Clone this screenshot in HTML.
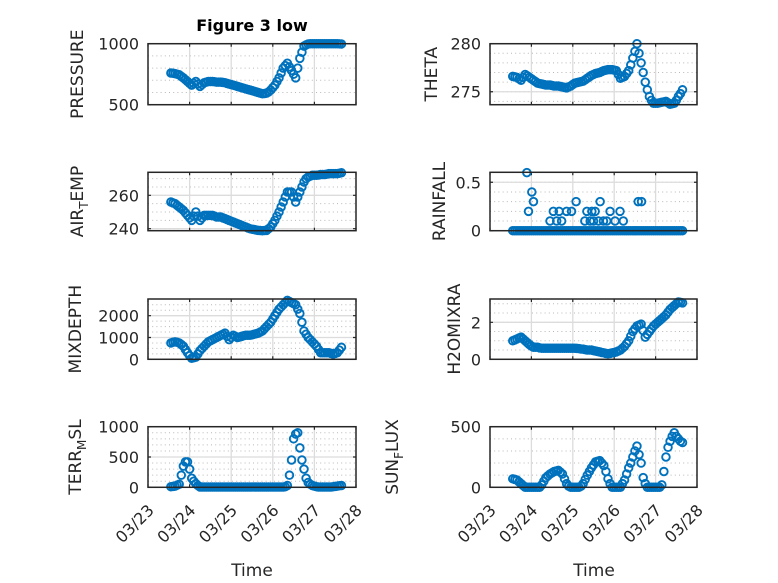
<!DOCTYPE html>
<html><head><meta charset="utf-8"><style>
html,body{margin:0;padding:0;background:#fff;}
svg{display:block;font-family:"DejaVu Sans","Liberation Sans",sans-serif;}
</style></head><body>
<svg id="fig" width="778" height="583" viewBox="0 0 778 583" xmlns="http://www.w3.org/2000/svg">
<rect x="0" y="0" width="778" height="583" fill="#fff"/>
<text x="252" y="31" text-anchor="middle" font-weight="bold" font-size="16" fill="#000">Figure 3 low</text>
<text x="252" y="576" text-anchor="middle" font-size="17" fill="#262626">Time</text>
<text x="594" y="576" text-anchor="middle" font-size="17" fill="#262626">Time</text>
</svg>
<script>
const dayLabels = ["03/23","03/24","03/25","03/26","03/27","03/28"];
const t = [0.55,0.6,0.65,0.7,0.75,0.8,0.85,0.9,0.95,1.0,1.05,1.1,1.15,1.2,1.25,1.3,1.35,1.4,1.45,1.5,1.55,1.6,1.65,1.7,1.75,1.8,1.85,1.9,1.95,2.0,2.05,2.1,2.15,2.2,2.25,2.3,2.35,2.4,2.45,2.5,2.55,2.6,2.65,2.7,2.75,2.8,2.85,2.9,2.95,3.0,3.05,3.1,3.15,3.2,3.25,3.3,3.35,3.4,3.45,3.5,3.55,3.6,3.65,3.7,3.75,3.8,3.85,3.9,3.95,4.0,4.05,4.1,4.15,4.2,4.25,4.3,4.35,4.4,4.45,4.5,4.55,4.6,4.65];
const pressure = [760,758,755,750,745,732,720,705,690,675, 660,675,690,670,650,665,680,685,690,690, 690,688,685,685,685,683,680,675,670,665, 660,655,650,645,640,635,630,625,620,615, 610,605,600,595,590,592,595,605,620,640, 660,690,720,760,800,820,840,810,780,750, 720,800,880,930,980,990,998,1000,1000,1000, 1000,1000,1000,1000,1000,1000,1000,1000,1000,1000, 1000,999,998];
const airTemp = [256,255.5,255,254,253,252,251,249.5,248,246.5, 245,247.5,250,247.5,245,246.5,248,248,248,248, 248,247.5,247,247,247,246.5,246,245.5,245,244.5, 244,243.5,243,242.5,242,241.5,241,240.5,240,239.7, 239.5,239.2,239,238.9,238.8,238.9,239,240,241,243, 245,247.5,250,253,256,259,262,262,262,259, 256,259,262,265,268,270,271,271.5,272,272, 272,272.2,272.5,272.5,272.5,272.7,273,273,273,273, 273,273.2,273.5];
const theta = [276.6,276.55,276.5,276.35,276.2,276.5,276.8,276.65,276.5,276.35, 276.2,276.05,275.9,275.85,275.8,275.75,275.7,275.7,275.7,275.65, 275.6,275.6,275.6,275.55,275.5,275.45,275.4,275.5,275.6,275.75, 275.9,275.95,276,276.05,276.1,276.25,276.4,276.55,276.7,276.8, 276.9,276.95,277,277.1,277.2,277.25,277.3,277.3,277.3,277.25, 277.2,276.8,276.4,276.5,276.6,276.9,277.2,277.8,278.5,279.2, 280,279,278,277,276,275.2,274.5,274.1,273.8,273.8, 273.8,273.85,273.9,273.95,274,273.85,273.7,273.75,273.8,274.1, 274.5,274.8,275.2];
const rainT = [0.55,0.6,0.65,0.7,0.75,0.8,0.85,0.9,0.95,1.0,1.05,1.1,1.15,1.2,1.25,1.3,1.35,1.4,1.45,1.5,1.55,1.6,1.65,1.7,1.75,1.8,1.85,1.9,1.95,2.0,2.05,2.1,2.15,2.2,2.25,2.3,2.35,2.4,2.45,2.5,2.55,2.6,2.65,2.7,2.75,2.8,2.85,2.9,2.95,3.0,3.05,3.1,3.15,3.2,3.25,3.3,3.35,3.4,3.45,3.5,3.55,3.6,3.65,3.7,3.75,3.8,3.85,3.9,3.95,4.0,4.05,4.1,4.15,4.2,4.25,4.3,4.35,4.4,4.45,4.5,4.55,4.6,4.65, 0.89,0.93,1.01,1.05,1.45,1.53,1.61,1.67,1.73,1.85,1.97,2.08,2.29,2.34,2.42,2.46,2.50,2.54,2.62,2.66,2.74,2.82,2.90,3.02,3.14,3.22,3.58,3.66];
const rainV = [0,0,0,0,0,0,0,0,0,0, 0,0,0,0,0,0,0,0,0,0, 0,0,0,0,0,0,0,0,0,0, 0,0,0,0,0,0,0,0,0,0, 0,0,0,0,0,0,0,0,0,0, 0,0,0,0,0,0,0,0,0,0, 0,0,0,0,0,0,0,0,0,0, 0,0,0,0,0,0,0,0,0,0, 0,0,0, 0.6,0.2,0.4,0.3,0.1,0.2,0.1,0.2,0.1,0.2,0.2,0.3,0.1,0.2,0.1,0.2,0.1,0.2,0.1,0.3,0.1,0.1,0.2,0.1,0.2,0.1,0.3,0.3];
const mixDepth = [750,780,800,780,750,680,600,450,300,170, 50,70,100,250,400,500,600,700,800,850, 900,950,1000,1050,1100,1150,1200,1050,900,1000, 1100,1050,1000,1020,1050,1080,1100,1100,1100,1120, 1150,1170,1200,1250,1300,1400,1500,1600,1700,1850, 2000,2150,2300,2400,2500,2600,2700,2650,2600,2550, 2500,2300,2100,1700,1300,1150,1000,900,800,700, 600,450,300,300,300,300,300,270,250,270, 300,420,550];
const h2oMix = [1.0,1.05,1.1,1.15,1.2,1.1,1.0,0.9,0.8,0.72, 0.65,0.65,0.65,0.62,0.6,0.6,0.6,0.6,0.6,0.6, 0.6,0.6,0.6,0.6,0.6,0.6,0.6,0.6,0.6,0.6, 0.6,0.59,0.58,0.56,0.55,0.52,0.5,0.5,0.5,0.47, 0.45,0.42,0.4,0.37,0.35,0.32,0.3,0.32,0.35,0.37, 0.4,0.45,0.5,0.6,0.7,0.85,1.0,1.25,1.5,1.65, 1.8,1.85,1.9,1.55,1.2,1.35,1.5,1.65,1.8,1.9, 2.0,2.1,2.2,2.3,2.4,2.55,2.7,2.8,2.9,3.0, 3.1,3.08,3.05];
const terrMsl = [10,15,20,35,50,200,350,420,420,300, 150,100,60,30,5,5,5,5,5,5, 5,5,5,5,5,5,5,5,5,5, 5,5,5,5,5,5,5,5,5,5, 5,5,5,5,5,5,5,5,5,5, 5,5,5,5,5,10,30,200,450,800, 880,900,650,450,300,150,80,50,30,20, 10,5,5,5,5,5,5,5,10,15, 20,25,30];
const sunFlux = [70,65,60,45,30,15,0,0,0,0, 0,0,0,0,20,50,80,95,110,120, 130,135,140,125,110,70,30,10,0,0, 0,0,0,10,30,65,100,130,160,185, 210,215,220,200,180,130,70,30,0,0, 0,0,0,30,60,110,160,200,250,300, 340,270,200,80,30,0,0,0,0,0, 0,0,20,130,250,330,380,420,450,420, 400,380,370];

const NS = "http://www.w3.org/2000/svg";
const svg = document.getElementById('fig');
function mk(tag, attrs){const e=document.createElementNS(NS,tag);for(const k in attrs)e.setAttribute(k,attrs[k]);return e;}

const panels = [
 {name:"pressure",col:0,row:0,xs:t,ys:pressure,ylim:[500,1000],ticks:[500,1000],minor:100,label:["PRESSURE"],lx:77},
 {name:"theta",col:1,row:0,xs:t,ys:theta,ylim:[273.65,280],ticks:[275,280],minor:1,label:["THETA"],lx:431},
 {name:"air-temp",col:0,row:1,xs:t,ys:airTemp,ylim:[238.8,273.8],ticks:[240,260],minor:5,label:["AIR","T","EMP"],lx:77},
 {name:"rainfall",col:1,row:1,xs:rainT,ys:rainV,ylim:[0,0.603],ticks:[0,0.5],minor:0.1,label:["RAINFALL"],lx:439},
 {name:"mixdepth",col:0,row:2,xs:t,ys:mixDepth,ylim:[0,2764],ticks:[0,1000,2000],minor:250,label:["MIXDEPTH"],lx:75},
 {name:"h2omixra",col:1,row:2,xs:t,ys:h2oMix,ylim:[0,3.26],ticks:[0,2],minor:0.5,label:["H2OMIXRA"],lx:454},
 {name:"terr-msl",col:0,row:3,xs:t,ys:terrMsl,ylim:[0,1000],ticks:[0,500,1000],minor:100,label:["TERR","M","SL"],lx:75},
 {name:"sun-flux",col:1,row:3,xs:t,ys:sunFlux,ylim:[0,500],ticks:[0,500],minor:100,label:["SUN","F","LUX"],lx:392}
];
const colX = [[148,356],[490,697]];
const rowY = [[43.7,104.7],[172.3,230.7],[299,359.3],[426.7,487.3]];

panels.forEach(p=>{
  const [x0,x1]=colX[p.col], [y0,y1]=rowY[p.row];
  const g=mk('g',{});
  
  
  svg.appendChild(g);
  const sx=v=>x0+(v-0)/(5-0)*(x1-x0);
  const sy=v=>y1-(v-p.ylim[0])/(p.ylim[1]-p.ylim[0])*(y1-y0);
  let m=Math.ceil(p.ylim[0]/p.minor)*p.minor;
  for(;m<=p.ylim[1]+1e-9;m+=p.minor){
    const y=sy(m); if(y<y0+1||y>y1-1) continue;
    const l=mk('line',{x1:x0,x2:x1,y1:y,y2:y,stroke:'#b8b8b8','stroke-width':1,'stroke-dasharray':'1 3.2'});
    
    
    g.appendChild(l);
  }
  for(let d=1;d<5;d++){
    const l=mk('line',{x1:sx(d),x2:sx(d),y1:y0,y2:y1,stroke:'#dcdcdc','stroke-width':1.3});
    
    
    g.appendChild(l);
  }
  p.ticks.forEach(tv=>{
    const y=sy(tv);
    const l=mk('line',{x1:x0,x2:x1,y1:y,y2:y,stroke:'#dcdcdc','stroke-width':1.3});
    
    
    g.appendChild(l);
    const tx=mk('text',{x:x0-9,y:y+6,'text-anchor':'end','font-size':16,fill:'#262626'});
    tx.textContent=String(tv);
    
    
    g.appendChild(tx);
    const tk=mk('path',{d:`M${x0},${y}h3M${x1},${y}h-3`,stroke:'#262626','stroke-width':1.2});
    
    
    g.appendChild(tk);
  });
  for(let d=0;d<=5;d++){
    const tk=mk('path',{d:`M${sx(d)},${y1}v-3M${sx(d)},${y0}v3`,stroke:'#262626','stroke-width':1.2});
    
    
    g.appendChild(tk);
    if(p.row===3){
      const ax=sx(d)+7, ay=y1+24;
      const tx=mk('text',{x:ax,y:ay,'text-anchor':'end','font-size':16,fill:'#262626',transform:`rotate(-45 ${ax} ${ay})`});
      tx.textContent=dayLabels[d];
      
      
      g.appendChild(tx);
    }
  }
  p.xs.forEach((xv,i)=>{
    const c=mk('circle',{cx:sx(xv),cy:sy(p.ys[i]),r:3.8,fill:'none',stroke:'#0072BD','stroke-width':1.9});
    
    
    g.appendChild(c);
  });
  const b=mk('rect',{x:x0,y:y0,width:x1-x0,height:y1-y0,fill:'none',stroke:'#262626','stroke-width':1.5});
  
  
  g.appendChild(b);
  const cy=(y0+y1)/2;
  const lb=mk('text',{x:p.lx+6,y:cy,'text-anchor':'middle','font-size':17,fill:'#262626',transform:`rotate(-90 ${p.lx+6} ${cy})`});
  if(p.label.length===1){lb.textContent=p.label[0];}
  else{
    const a=mk('tspan',{}); a.textContent=p.label[0]; lb.appendChild(a);
    const s=mk('tspan',{'font-size':12,dy:5}); s.textContent=p.label[1]; lb.appendChild(s);
    const e=mk('tspan',{dy:-5}); e.textContent=p.label[2]; lb.appendChild(e);
  }
  
  
  g.appendChild(lb);
});
</script>
</body></html>
